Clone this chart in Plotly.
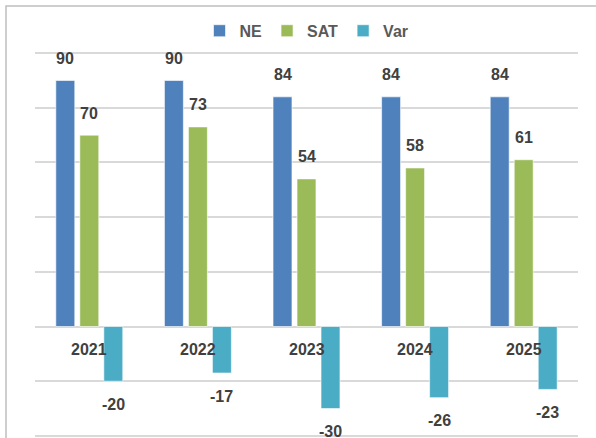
import plotly.graph_objects as go

categories = [2021, 2022, 2023, 2024, 2025]
ne_values = [90, 90, 84, 84, 84]
sat_values = [70, 73, 54, 58, 61]
var_values = [-20, -17, -30, -26, -23]
series_names = ["NE", "SAT", "Var"]
colors = ["#4F81BD", "#9BBB59", "#4BACC6"]

fig = go.Figure()
for name, vals, col in zip(series_names, [ne_values, sat_values, var_values], colors):
    fig.add_trace(go.Bar(
        x=categories, y=vals, name=name,
        marker=dict(color=col, line=dict(color="rgba(255,255,255,0.6)", width=1)),
    ))

font_family = "Liberation Sans, Arial, sans-serif"
label_font = dict(family=font_family, size=16, color="#404040")
annotations = []
for idx, vals in enumerate([ne_values, sat_values, var_values]):
    xs = (idx - 1) * 24
    for c, v in zip(categories, vals):
        annotations.append(dict(
            x=c, y=v, xref="x", yref="y", text=f"<b>{v}</b>", showarrow=False,
            xshift=xs, yshift=22 if v >= 0 else -23, yanchor="middle",
            font=label_font,
        ))
# category labels just under the zero line
for c in categories:
    annotations.append(dict(
        x=c, y=0, xref="x", yref="y", text=f"<b>{c}</b>", showarrow=False,
        yshift=-23, yanchor="middle", font=label_font,
    ))

ymin, ymax = -40, 100
pad = 0.4
fig.update_layout(
    width=596, height=438,
    margin=dict(l=35, r=18, t=52, b=1),
    paper_bgcolor="white", plot_bgcolor="white",
    barmode="group", bargap=0.337, bargroupgap=0.21,
    showlegend=True,
    legend=dict(orientation="h", x=0.5, xanchor="center", y=1.055, yanchor="middle",
                font=dict(family=font_family, size=16, color="#595959", weight="bold"),
                itemwidth=30, tracegroupgap=0),
    annotations=annotations,
    xaxis=dict(range=[min(categories) - 0.5, max(categories) + 0.5], showline=False, ticks="",
               showgrid=False, showticklabels=False, zeroline=False, automargin=False),
    yaxis=dict(range=[ymin - pad, ymax + pad], tick0=0, dtick=20, showticklabels=False, showgrid=True,
               automargin=False, gridcolor="#D9D9D9", gridwidth=1.5,
               zeroline=True, zerolinecolor="#D9D9D9", zerolinewidth=1.5),
    shapes=[dict(type="rect", xref="paper", yref="paper", x0=-0.0534, x1=1.2, y0=-0.2, y1=1.1195,
                 line=dict(color="#BFBFBF", width=1.5), layer="below")],
)

fig.write_html("out.html", config={"displayModeBar": False},
               post_script="document.body.style.margin='0';")
